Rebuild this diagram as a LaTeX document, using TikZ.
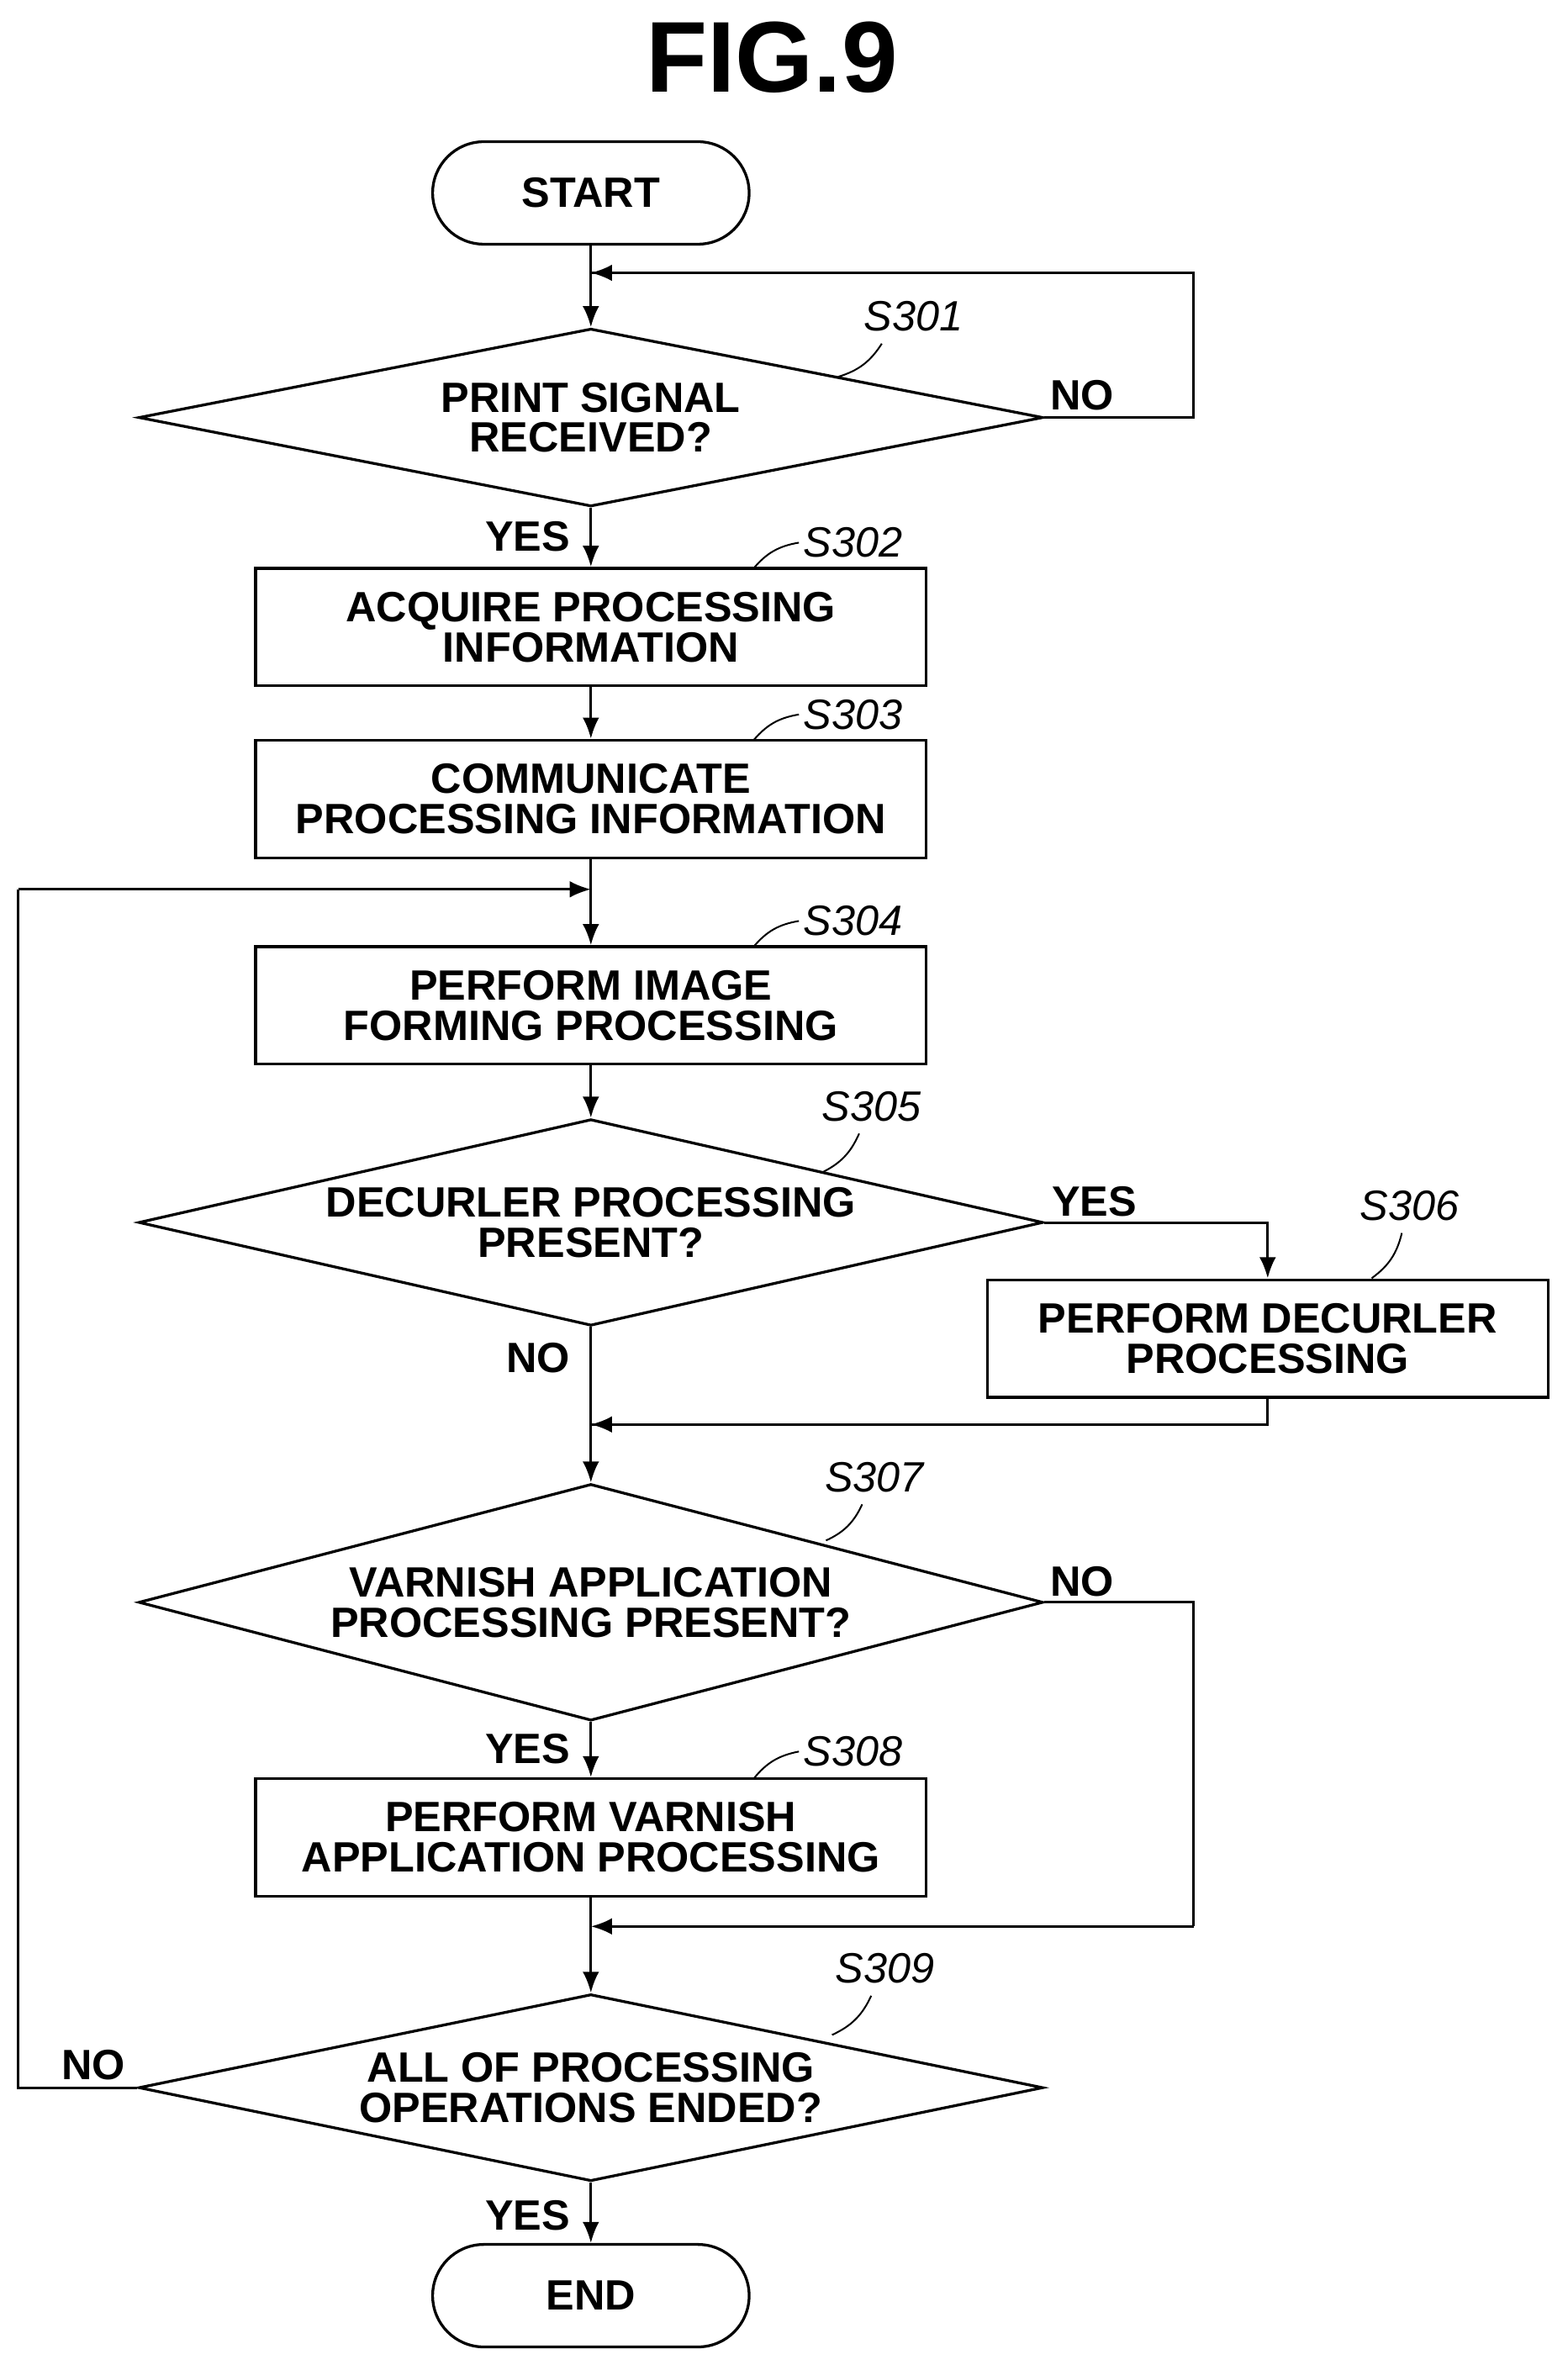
\documentclass[tikz,border=0pt]{standalone}
\usepackage{fontspec}
\setmainfont{Liberation Sans}
\usetikzlibrary{arrows.meta,shapes.geometric}
\tikzset{
  txt/.style = {font=\fontsize{40}{38}\selectfont\bfseries, align=center, inner sep=0},
  term/.style = {draw, line width=2.6pt, rounded corners=1.7cm, minimum width=10.5cm, minimum height=3.4cm, txt},
  box/.style = {draw, line width=2.6pt, minimum width=22.25cm, minimum height=3.9cm, txt},
  dia/.style = {draw, line width=2.6pt, diamond, minimum width=30cm, minimum height=5.9cm, inner sep=0},
  lbl/.style = {font=\fontsize{40}{44}\selectfont\itshape, inner sep=0},
  flow/.style = {line width=2.4pt, -{Latex[length=0.7cm,width=0.55cm]}},
  line/.style = {line width=2.4pt},
}
\begin{document}
\begin{tikzpicture}[x=0.05cm, y=-0.05cm]
\useasboundingbox (0,0) rectangle (1040,1569);

\node[font=\fontsize{95}{100}\selectfont\bfseries] (title) at (512,38) {FIG.9};

% shapes
\node[term] (start) at (392,128) {START};
\node[dia] (d1) at (392,277) {};
\node[txt] at (d1) {PRINT SIGNAL\\RECEIVED?};
\node[box] (b2) at (392,416) {ACQUIRE PROCESSING\\INFORMATION};
\node[box] (b3) at (392,530) {COMMUNICATE\\PROCESSING INFORMATION};
\node[box] (b4) at (392,667) {PERFORM IMAGE\\FORMING PROCESSING};
\node[dia, minimum height=6.85cm] (d5) at (392,811) {};
\node[txt] at (d5) {DECURLER PROCESSING\\PRESENT?};
\node[box, minimum width=18.6cm] (b6) at (841,888) {PERFORM DECURLER\\PROCESSING};
\node[dia, minimum height=7.85cm] (d7) at (392,1063) {};
\node[txt] at (d7) {VARNISH APPLICATION\\PROCESSING PRESENT?};
\node[box] (b8) at (392,1219) {PERFORM VARNISH\\APPLICATION PROCESSING};
\node[dia, minimum height=6.2cm] (d9) at (392,1385) {};
\node[txt] at (d9) {ALL OF PROCESSING\\OPERATIONS ENDED?};
\node[term] (stop) at (392,1523) {END};

% join points
\coordinate (j1) at (392,181);
\coordinate (j4) at (392,590);
\coordinate (j7) at (392,945);
\coordinate (j9) at (392,1278);

% connectors
\draw[flow] (start) -- (d1);
\draw[line] (d1.east) -- (792,277) -- (792,181) -- (j1);
\draw[flow] (792,181) -- (j1);
\draw[flow] (d1) -- (b2);
\draw[flow] (b2) -- (b3);
\draw[line] (b3) -- (j4);
\draw[flow] (j4) -- (b4);
\draw[flow] (b4) -- (d5);
\draw[flow] (d5.east) -| (b6.north);
\draw[line] (b6.south) |- (j7);
\draw[flow] (b6.south |- j7) -- (j7);
\draw[flow] (d5) -- (d7);
\draw[line] (d7.east) -- (792,1063) -- (792,1278);
\draw[flow] (792,1278) -- (j9);
\draw[flow] (d7) -- (b8);
\draw[flow] (b8) -- (d9);
\draw[line] (d9.west) -- (12,1385) -- (12,590);
\draw[flow] (12,590) -- (j4);
\draw[flow] (d9) -- (stop);

% branch labels
\node[txt] at (718,262) {NO};
\node[txt] at (350,356) {YES};
\node[txt] at (726,797) {YES};
\node[txt] at (357,901) {NO};
\node[txt] at (718,1049) {NO};
\node[txt] at (350,1160) {YES};
\node[txt] at (62,1370) {NO};
\node[txt] at (350,1470) {YES};

% step labels
\node[lbl] (s301) at (606,210) {S301};
\draw[line, line width=1.6pt] (585,228) to[bend left=20] (556,250);
\node[lbl] (s302) at (566,360) {S302};
\draw[line, line width=1.6pt] (530,360) to[bend right=20] (500,377);
\node[lbl] (s303) at (566,474) {S303};
\draw[line, line width=1.6pt] (530,474) to[bend right=20] (500,491);
\node[lbl] (s304) at (566,611) {S304};
\draw[line, line width=1.6pt] (530,611) to[bend right=20] (500,628);
\node[lbl] (s305) at (578,734) {S305};
\draw[line, line width=1.6pt] (570,752) to[bend left=20] (545,778);
\node[lbl] (s306) at (935,800) {S306};
\draw[line, line width=1.6pt] (930,818) to[bend left=20] (910,848);
\node[lbl] (s307) at (580,980) {S307};
\draw[line, line width=1.6pt] (572,998) to[bend left=20] (548,1022);
\node[lbl] (s308) at (566,1162) {S308};
\draw[line, line width=1.6pt] (530,1162) to[bend right=20] (500,1180);
\node[lbl] (s309) at (587,1306) {S309};
\draw[line, line width=1.6pt] (578,1324) to[bend left=20] (552,1350);
\end{tikzpicture}
\end{document}
